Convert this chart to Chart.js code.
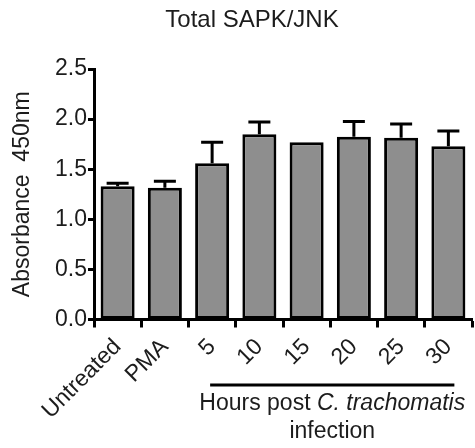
<!DOCTYPE html>
<html>
<head>
<meta charset="utf-8">
<script src="https://cdn.jsdelivr.net/npm/chart.js@4/dist/chart.umd.min.js"></script>
<style>
  body { margin: 0; background: #fff; }
  #wrap { width: 475px; height: 448px; }
</style>
</head>
<body>
<div id="wrap"><canvas id="c" width="475" height="448"></canvas></div>
<script>
const categories = ['Untreated', 'PMA', '5', '10', '15', '20', '25', '30'];
const means = [1.33, 1.315, 1.56, 1.85, 1.77, 1.825, 1.815, 1.73];
const sem = [0.03, 0.065, 0.21, 0.12, 0.0, 0.15, 0.135, 0.15];
const yTicks = [0, 0.5, 1.0, 1.5, 2.0, 2.5];

const FONT = "'Liberation Sans', Arial, sans-serif";
const INK = '#1c1c1c';

// upward-only SEM whiskers, like the Prism original
const errorBars = {
  id: 'errorBars',
  afterDatasetsDraw(chart) {
    const ctx = chart.ctx;
    const y = chart.scales.y;
    const meta = chart.getDatasetMeta(0);
    ctx.save();
    ctx.strokeStyle = '#000';
    ctx.lineWidth = 3;
    meta.data.forEach((bar, i) => {
      if (!sem[i]) return;
      const top = y.getPixelForValue(means[i] + sem[i]);
      ctx.beginPath();
      ctx.moveTo(bar.x, bar.y);
      ctx.lineTo(bar.x, top);
      ctx.moveTo(bar.x - 11, top);
      ctx.lineTo(bar.x + 11, top);
      ctx.stroke();
    });
    ctx.restore();
  }
};

// title (offset like the original) and the bracket under the infection time points
const extraText = {
  id: 'extraText',
  afterDraw(chart) {
    const ctx = chart.ctx;
    const x = chart.scales.x;
    ctx.save();
    ctx.fillStyle = INK;
    ctx.textAlign = 'center';
    ctx.textBaseline = 'alphabetic';
    ctx.font = '24px ' + FONT;
    ctx.fillText('Total SAPK/JNK', 252, 27);

    const x0 = x.getPixelForValue(2) - 2;
    const x1 = x.getPixelForValue(7) + 6;
    const cx = (x0 + x1) / 2;
    ctx.strokeStyle = '#000';
    ctx.lineWidth = 3;
    ctx.beginPath();
    ctx.moveTo(x0, 385);
    ctx.lineTo(x1, 385);
    ctx.stroke();

    const a = 'Hours post ';
    const b = 'C. trachomatis';
    ctx.font = '23px ' + FONT;
    const wa = ctx.measureText(a).width;
    ctx.font = 'italic 23px ' + FONT;
    const wb = ctx.measureText(b).width;
    const sx = cx - (wa + wb) / 2;
    ctx.textAlign = 'left';
    ctx.font = '23px ' + FONT;
    ctx.fillText(a, sx, 410);
    ctx.font = 'italic 23px ' + FONT;
    ctx.fillText(b, sx + wa, 410);
    ctx.font = '23px ' + FONT;
    ctx.textAlign = 'center';
    ctx.fillText('infection', cx, 438);
    ctx.restore();
  }
};

new Chart(document.getElementById('c'), {
  type: 'bar',
  data: {
    labels: categories,
    datasets: [{
      data: means,
      backgroundColor: '#8e8e8e',
      borderColor: '#000',
      borderWidth: 3,
      borderSkipped: false,
      barPercentage: 0.72,
      categoryPercentage: 1
    }]
  },
  options: {
    responsive: false,
    animation: false,
    layout: { padding: { left: 0, right: 3, top: 69, bottom: 0 } },
    plugins: {
      legend: { display: false },
      tooltip: { enabled: false },
      title: { display: false }
    },
    scales: {
      x: {
        offset: true,
        grid: { display: true, drawOnChartArea: false, tickLength: 8, tickWidth: 3, tickColor: '#000' },
        border: { display: true, width: 3, color: '#000' },
        ticks: {
          color: INK,
          font: { family: FONT, size: 23 },
          maxRotation: 45,
          minRotation: 45,
          padding: 6
        },
        afterFit: s => { s.height = 128.5; }
      },
      y: {
        min: 0,
        max: 2.5,
        afterBuildTicks: s => { s.ticks = yTicks.map(v => ({ value: v })); },
        grid: { display: true, drawOnChartArea: false, tickLength: 6, tickWidth: 3, tickColor: '#000' },
        border: { display: true, width: 3, color: '#000' },
        ticks: {
          color: INK,
          font: { family: FONT, size: 23 },
          padding: 1,
          callback: v => v.toFixed(1)
        },
        title: {
          display: true,
          text: 'Absorbance  450nm',
          color: INK,
          font: { family: FONT, size: 23 },
          padding: { top: 9, bottom: 0 }
        },
        afterFit: s => { s.width = 94; }
      }
    }
  },
  plugins: [errorBars, extraText]
});
</script>
</body>
</html>
